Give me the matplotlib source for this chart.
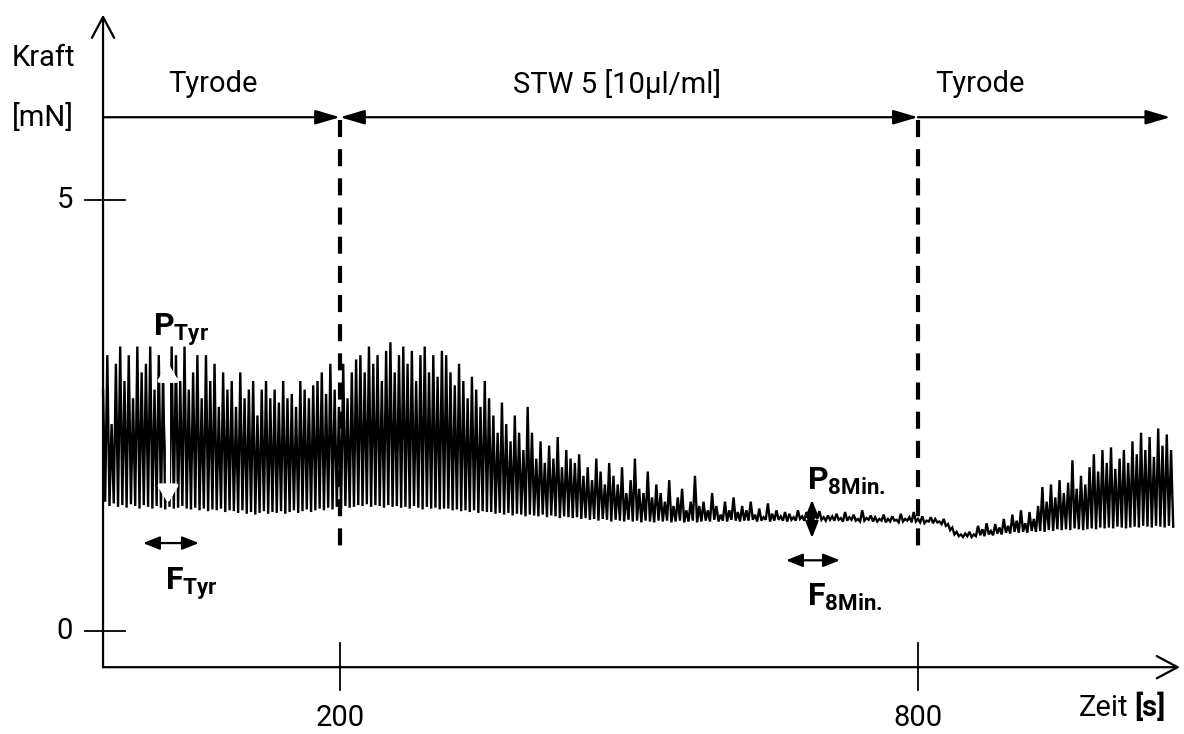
import numpy as np
import matplotlib.pyplot as plt

plt.rcParams['font.family'] = ['Roboto', 'DejaVu Sans']
plt.rcParams['mathtext.fontset'] = 'custom'
plt.rcParams['mathtext.bf'] = 'Roboto:bold'
plt.rcParams['mathtext.rm'] = 'Roboto'

# Kraftverlauf: Spitzen und Taeler der Kontraktionen (mN), der Reihe nach
peaks = [
    2.8, 3.2, 2.4, 3.1, 3.3, 2.9, 3.2, 2.7, 3.3, 3.0,
    3.1, 3.3, 2.8, 3.2, 3.0, 2.5, 3.3, 3.2, 2.9, 3.3,
    2.8, 3.0, 3.2, 2.7, 3.2, 2.9, 3.1, 2.6, 3.0, 2.8,
    2.9, 2.6, 3.0, 2.7, 2.8, 2.9, 2.5, 2.8, 2.9, 2.7,
    2.8, 2.65, 2.9, 2.7, 2.75, 2.6, 2.9, 2.8, 2.7, 2.85,
    2.9, 3.0, 2.75, 3.1, 2.8, 2.6, 3.1, 2.7, 3.0, 3.15,
    3.2, 3.0, 3.3, 3.1, 3.2, 2.9, 3.25, 3.35, 3.0, 3.2,
    3.3, 3.1, 3.25, 2.9, 3.2, 3.3, 3.0, 3.2, 2.95, 3.25,
    3.2, 3.0, 2.85, 3.1, 2.9, 2.7, 2.95, 2.8, 2.6, 2.9,
    2.7, 2.5, 2.3, 2.65, 2.4, 2.2, 2.5, 2.3, 2.1, 2.6,
    2.3, 2.0, 2.2, 1.95, 2.15, 2.0, 2.25, 1.9, 2.1, 2.0,
    1.95, 2.05, 1.8, 1.9, 1.75, 2.0, 1.85, 1.7, 1.95, 1.8,
    1.7, 1.9, 1.6, 1.75, 2.0, 1.65, 1.6, 1.85, 1.55, 1.7,
    1.6, 1.5, 1.75, 1.45, 1.55, 1.65, 1.4, 1.5, 1.8, 1.45,
    1.5, 1.4, 1.6, 1.45, 1.35, 1.5, 1.4, 1.55, 1.38, 1.45,
    1.4, 1.5, 1.35, 1.42, 1.32, 1.48, 1.36, 1.4, 1.33, 1.38,
    1.36, 1.32, 1.4, 1.33, 1.38, 1.31, 1.35, 1.39, 1.32, 1.34,
    1.33, 1.36, 1.31, 1.38, 1.32, 1.35, 1.3, 1.4, 1.31, 1.34,
    1.32, 1.3, 1.35, 1.3, 1.33, 1.29, 1.36, 1.3, 1.32, 1.38,
    1.3, 1.33, 1.28, 1.32, 1.3, 1.27, 1.3, 1.24, 1.2, 1.15,
    1.12, 1.13, 1.15, 1.12, 1.22, 1.18, 1.25, 1.16, 1.24, 1.2,
    1.3, 1.22, 1.35, 1.28, 1.4, 1.25, 1.38, 1.3, 1.45, 1.67,
    1.5, 1.7, 1.55, 1.75, 1.6, 1.72, 1.98, 1.65, 1.8, 1.7,
    1.9, 2.05, 1.85, 2.1, 1.95, 2.13, 1.88, 2.0, 2.1, 1.95,
    2.2, 2.05, 2.3, 2.1, 2.25, 2.02, 2.35, 2.15, 2.28, 2.1,
]
troughs = [
    1.50, 1.45, 1.48, 1.44, 1.46, 1.43, 1.47, 1.45, 1.42, 1.46,
    1.44, 1.42, 1.45, 1.43, 1.41, 1.44, 1.42, 1.43, 1.45, 1.42,
    1.41, 1.43, 1.40, 1.42, 1.39, 1.41, 1.40, 1.42, 1.38, 1.40,
    1.39, 1.37, 1.40, 1.36, 1.38, 1.35, 1.37, 1.39, 1.36, 1.38,
    1.37, 1.39, 1.36, 1.38, 1.40, 1.37, 1.39, 1.41, 1.38, 1.40,
    1.42, 1.40, 1.43, 1.41, 1.44, 1.42, 1.45, 1.43, 1.44, 1.46,
    1.45, 1.47, 1.44, 1.46, 1.45, 1.43, 1.46, 1.44, 1.45, 1.43,
    1.44, 1.42, 1.45, 1.43, 1.41, 1.44, 1.42, 1.43, 1.41, 1.42,
    1.42, 1.40, 1.41, 1.39, 1.40, 1.38, 1.40, 1.37, 1.39, 1.38,
    1.38, 1.36, 1.37, 1.35, 1.37, 1.34, 1.36, 1.35, 1.33, 1.35,
    1.34, 1.33, 1.35, 1.32, 1.34, 1.33, 1.31, 1.33, 1.32, 1.31,
    1.32, 1.30, 1.31, 1.29, 1.30, 1.28, 1.30, 1.29, 1.27, 1.29,
    1.28, 1.27, 1.29, 1.27, 1.28, 1.26, 1.28, 1.27, 1.26, 1.28,
    1.27, 1.28, 1.26, 1.27, 1.28, 1.26, 1.27, 1.28, 1.26, 1.27,
    1.28, 1.27, 1.29, 1.27, 1.28, 1.27, 1.29, 1.28, 1.27, 1.28,
    1.28, 1.29, 1.27, 1.28, 1.29, 1.27, 1.28, 1.29, 1.28, 1.27,
    1.29, 1.28, 1.30, 1.28, 1.29, 1.28, 1.30, 1.29, 1.28, 1.29,
    1.28, 1.29, 1.27, 1.28, 1.29, 1.28, 1.27, 1.28, 1.29, 1.27,
    1.27, 1.28, 1.26, 1.27, 1.28, 1.26, 1.27, 1.28, 1.26, 1.27,
    1.26, 1.25, 1.27, 1.25, 1.26, 1.24, 1.22, 1.17, 1.12, 1.10,
    1.09, 1.10, 1.09, 1.10, 1.11, 1.10, 1.12, 1.11, 1.13, 1.12,
    1.14, 1.13, 1.15, 1.14, 1.15, 1.14, 1.16, 1.15, 1.16, 1.15,
    1.17, 1.16, 1.18, 1.17, 1.18, 1.17, 1.19, 1.18, 1.17, 1.18,
    1.19, 1.18, 1.20, 1.19, 1.20, 1.19, 1.21, 1.20, 1.19, 1.20,
    1.21, 1.20, 1.22, 1.21, 1.20, 1.22, 1.21, 1.20, 1.22, 1.21,
]
t_start, t_end = -46, 1065       # Beginn / Ende der Aufzeichnung (s)

phase_labels = ['Tyrode', 'STW 5 [10µl/ml]', 'Tyrode']
phase_bounds = [-46, 200, 800, 1062]
x_ticks = [200, 800]
y_ticks = [0, 5]

# Zickzack aus Spitzen und Taelern
force = np.column_stack([peaks, troughs]).ravel()
time = np.linspace(t_start, t_end, len(force))

fig = plt.figure(figsize=(11.84, 7.34), dpi=100)
ax = fig.add_axes([0, 0, 1, 1])
ax.set_xlim(-152.96, 1076.2)
ax.set_ylim(-1.195, 7.32)
ax.axis('off')

k = 'black'
fs = 21

ax.plot(time, force, color=k, lw=1.7, solid_joinstyle='miter')

# Achsen mit offenen Pfeilspitzen
x0, y0 = -46, -0.42
open_arrow = dict(arrowstyle='->,head_length=0.75,head_width=0.4', lw=1.6,
                  color=k, shrinkA=0, shrinkB=0, mutation_scale=20)
ax.annotate('', xy=(x0, 7.15), xytext=(x0, y0), arrowprops=open_arrow)
ax.annotate('', xy=(1072, y0), xytext=(x0, y0), arrowprops=open_arrow)

for v in y_ticks:
    ax.plot([-64.7, -23.2], [v, v], color=k, lw=1.3)
    ax.text(-77, v, str(v), ha='right', va='center', fontsize=fs)
for t in x_ticks:
    ax.plot([t, t], [-0.14, -0.68], color=k, lw=1.3)
    ax.text(t, -1.01, str(t), ha='center', va='center', fontsize=fs)

ax.text(-141, 6.65, 'Kraft', ha='left', va='center', fontsize=fs)
ax.text(-141, 5.96, '[mN]', ha='left', va='center', fontsize=fs)
ax.text(1018, -0.89, 'Zeit', ha='right', va='center', fontsize=fs)
ax.text(1025, -0.89, '[s]', ha='left', va='center', fontsize=fs,
        fontweight='bold')

# Phasen oben
y_top = 5.96
filled = dict(lw=1.6, color=k, shrinkA=0, shrinkB=0, mutation_scale=20)
ax.annotate('', xy=(phase_bounds[1], y_top), xytext=(phase_bounds[0], y_top),
            arrowprops=dict(arrowstyle='-|>,head_length=0.75,head_width=0.22', **filled))
ax.annotate('', xy=(phase_bounds[2], y_top), xytext=(phase_bounds[1], y_top),
            arrowprops=dict(arrowstyle='<|-|>,head_length=0.75,head_width=0.22', **filled))
ax.annotate('', xy=(phase_bounds[3], y_top), xytext=(phase_bounds[2], y_top),
            arrowprops=dict(arrowstyle='-|>,head_length=0.75,head_width=0.22', **filled))
label_x = [68, 488, 864]
for lx, lab in zip(label_x, phase_labels):
    ax.text(lx, 6.35, lab, ha='center', va='center', fontsize=fs)

for t in x_ticks:
    ax.plot([t, t], [y_top - 0.03, 0.88], color=k, lw=3.0, ls=(0, (4.1, 2.9)))

# P / F Markierungen
ax.annotate('', xy=(21.4, 3.11), xytext=(21.4, 1.48),
            arrowprops=dict(arrowstyle='<|-|>,head_length=0.5,head_width=0.3',
                            lw=3.0, color='white', shrinkA=0, shrinkB=0,
                            mutation_scale=20))
ax.text(6, 3.42, r'$\mathbf{P}_{\mathbf{Tyr}}$', fontsize=23, va='baseline')
small = dict(arrowstyle='<|-|>,head_length=0.5,head_width=0.2', lw=1.6,
             color=k, shrinkA=0, shrinkB=0, mutation_scale=20)
ax.annotate('', xy=(53.5, 1.02), xytext=(-4.5, 1.02), arrowprops=small)
ax.text(18, 0.47, r'$\mathbf{F}_{\mathbf{Tyr}}$', fontsize=23, va='baseline')

ax.annotate('', xy=(690, 1.52), xytext=(690, 1.08), arrowprops=small)
ax.text(685, 1.64, r'$\mathbf{P}_{\mathbf{8Min.}}$', fontsize=23, va='baseline')
ax.annotate('', xy=(719, 0.82), xytext=(663, 0.82), arrowprops=small)
ax.text(685, 0.29, r'$\mathbf{F}_{\mathbf{8Min.}}$', fontsize=23, va='baseline')

fig.savefig('out.png', dpi=100, facecolor='white')
